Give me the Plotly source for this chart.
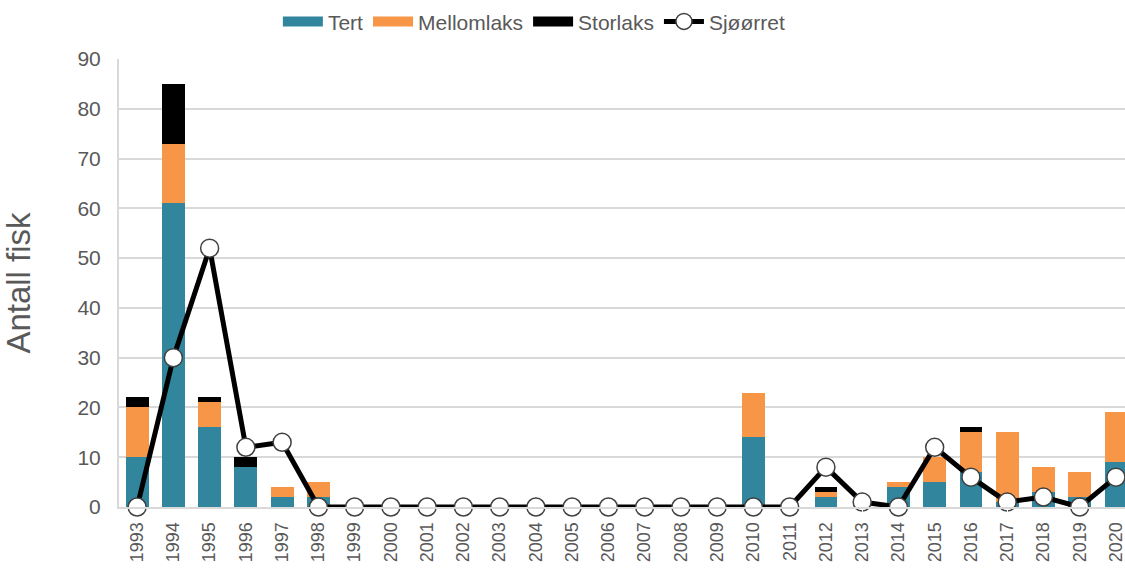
import plotly.graph_objects as go

years = [str(y) for y in range(1993, 2021)]
tert = [10, 61, 16, 8, 2, 2, 0, 0, 0, 0, 0, 0, 0, 0, 0, 0, 0, 14, 0, 2, 0, 4, 5, 7, 1, 3, 2, 9]
mellomlaks = [10, 12, 5, 0, 2, 3, 0, 0, 0, 0, 0, 0, 0, 0, 0, 0, 0, 9, 0, 1, 0, 1, 5, 8, 14, 5, 5, 10]
storlaks = [2, 12, 1, 2, 0, 0, 0, 0, 0, 0, 0, 0, 0, 0, 0, 0, 0, 0, 0, 1, 0, 0, 0, 1, 0, 0, 0, 0]
sjoorret = [0, 30, 52, 12, 13, 0, 0, 0, 0, 0, 0, 0, 0, 0, 0, 0, 0, 0, 0, 8, 1, 0, 12, 6, 1, 2, 0, 6]

grey = "#595959"
colors = {"Tert": "#31859c", "Mellomlaks": "#f79646", "Storlaks": "#000000"}

fig = go.Figure()
for name, vals in [("Tert", tert), ("Mellomlaks", mellomlaks), ("Storlaks", storlaks)]:
    fig.add_trace(go.Bar(x=years, y=vals, name=name, showlegend=False,
                         marker=dict(color=colors[name], line_width=0)))
    # wide rectangular legend swatch like the original
    fig.add_trace(go.Scatter(x=[None], y=[None], mode="lines", name=name,
                             line=dict(color=colors[name], width=13)))
fig.add_trace(go.Scatter(
    x=years, y=sjoorret, name="Sjøørret", mode="lines+markers",
    line=dict(color="black", width=5),
    marker=dict(symbol="circle", size=18, color="white", line=dict(color="#404040", width=1.5)),
    cliponaxis=False,
))

fig.update_layout(
    width=1125, height=573,
    barmode="stack", bargap=0.37,
    plot_bgcolor="white", paper_bgcolor="white",
    margin=dict(l=119, r=0, t=59, b=66),
    font=dict(family="Liberation Sans, Arial, sans-serif", color=grey, size=18),
    legend=dict(orientation="h", traceorder="normal",
                xref="container", x=0.475, xanchor="center",
                yref="container", y=0.962, yanchor="middle",
                font=dict(size=21, color=grey), itemwidth=40),
    showlegend=True,
)
fig.update_xaxes(
    type="category", range=[-0.5, 27.25], tickangle=-90, automargin=False,
    tickfont=dict(size=18, color=grey),
    showline=True, linecolor="#d9d9d9", linewidth=2,
    ticks="outside", ticklen=6, tickcolor="white",
)
fig.update_yaxes(
    range=[0, 90], dtick=10, automargin=False,
    tickfont=dict(size=21, color=grey),
    showgrid=True, gridcolor="#d9d9d9", gridwidth=2,
    showline=True, linecolor="#d9d9d9", linewidth=2,
    zeroline=False, ticks="outside", ticklen=12, tickcolor="white",
    title=dict(text="Antall fisk", font=dict(size=33, color=grey), standoff=37),
)

fig.write_html("out.html", config={"displayModeBar": False},
               post_script="document.body.style.margin='0';")
